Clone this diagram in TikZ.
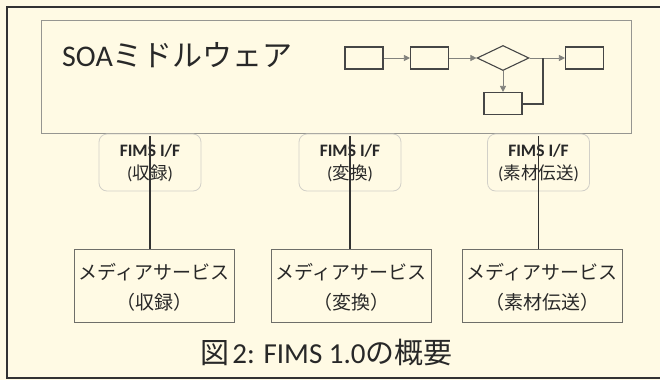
\documentclass[tikz,border=0pt]{standalone}
\usepackage{fontspec}
\setmainfont{Carlito}
\newfontfamily\jp{Noto Sans CJK JP}
\usetikzlibrary{shapes.geometric,arrows.meta}
\definecolor{bg}{RGB}{255,250,228}
\definecolor{frameline}{RGB}{50,50,50}
\definecolor{mwline}{RGB}{150,150,145}
\definecolor{fimsline}{RGB}{210,208,200}
\definecolor{svcline}{RGB}{110,110,105}
\definecolor{flowline}{RGB}{70,70,70}
\definecolor{arrowgray}{RGB}{130,130,125}
\definecolor{txt}{RGB}{40,40,40}
\tikzset{
  mwbox/.style={draw=mwline, line width=0.8pt, minimum width=590pt, minimum height=113pt, inner sep=0pt},
  fimsbox/.style={draw=fimsline, line width=0.8pt, rounded corners=8pt, minimum width=102pt, minimum height=57pt, inner sep=0pt},
  fimstext/.style={align=center, inner sep=0pt, font=\fontsize{17.5}{23}\selectfont, text=txt},
  svcbox/.style={draw=svcline, line width=0.8pt, minimum width=160pt, minimum height=73pt, inner sep=0pt},
  svctext/.style={align=center, inner sep=0pt, font=\fontsize{19}{30}\selectfont, text=txt},
  conn/.style={draw=frameline, line width=1.3pt},
  fbox/.style={draw=flowline, line width=1.1pt, minimum width=38pt, minimum height=22pt, inner sep=0pt},
  fdiam/.style={draw=flowline, line width=1.1pt, diamond, minimum width=52pt, minimum height=25pt, inner sep=0pt},
  farrow/.style={draw=arrowgray, line width=0.6pt, -{Triangle[length=6pt,width=6pt,fill=arrowgray]}},
  fthick/.style={draw=flowline, line width=2pt},
}
\begin{document}
\begin{tikzpicture}[x=1pt,y=-1pt]
\fill[bg] (0,0) rectangle (660,380);
\useasboundingbox (0,0) rectangle (660,380);
\draw[frameline, line width=2pt] (660,6.5) -- (6.5,6.5) -- (6.5,378) -- (660,378);

% middleware
\node[mwbox] (mw) at (336,76.5) {};
\node[anchor=west, inner sep=0pt, text=txt, font=\fontsize{30}{36}\selectfont] (title) at (62,55) {SOA{\jp ミドルウェア}};

% flowchart
\node[fbox] (f1) at (364,58) {};
\node[fbox] (f2) at (429.5,58) {};
\node[fdiam] (fd) at (503,58) {};
\node[fbox] (f4) at (584.5,58) {};
\node[fbox] (f5) at (503,103.5) {};
\coordinate (j) at (543,58);
\draw[farrow] (f1.east) -- (f2.west);
\draw[farrow] (f2.east) -- (fd.west);
\draw[farrow] (fd.east) -- (f4.west);
\draw[farrow] (fd.south) -- (f5.north);
\draw[fthick] (f5.east) -| (j);

% FIMS I/F
\node[fimsbox] (i1) at (150,162.5) {};
\node[fimsbox] (i2) at (350,162.5) {};
\node[fimsbox] (i3) at (538.5,162.5) {};
\node[fimstext] (l1) at (150,163.5) {\textbf{FIMS I/F}\\({\jp 収録})};
\node[fimstext] (l2) at (350,163.5) {\textbf{FIMS I/F}\\({\jp 変換})};
\node[fimstext] (l3) at (538.5,163.5) {\textbf{FIMS I/F}\\({\jp 素材伝送})};

% media services
\node[svcbox] (s1) at (154,285.5) {};
\node[svcbox] (s2) at (351,285.5) {};
\node[svcbox] (s3) at (542,285.5) {};
\node[svctext] (t1) at (154,287) {\jp メディアサービス\\\jp （収録）};
\node[svctext] (t2) at (351,287) {\jp メディアサービス\\\jp （変換）};
\node[svctext] (t3) at (542,287) {\jp メディアサービス\\\jp （素材伝送）};

% connectors
\draw[conn] ([yshift=-3pt]i1.center |- mw.south) -- (i1.center |- s1.north);
\draw[conn] ([yshift=-3pt]i2.center |- mw.south) -- (i2.center |- s2.north);
\draw[conn] ([yshift=-3pt]i3.center |- mw.south) -- (i3.center |- s3.north);

% caption
\node[text=txt, inner sep=0pt, font=\fontsize{29}{34}\selectfont] (cap) at (326.5,353) {{\jp 図}\hspace{3pt}2: FIMS 1.0{\jp の概要}};
\end{tikzpicture}
\end{document}
